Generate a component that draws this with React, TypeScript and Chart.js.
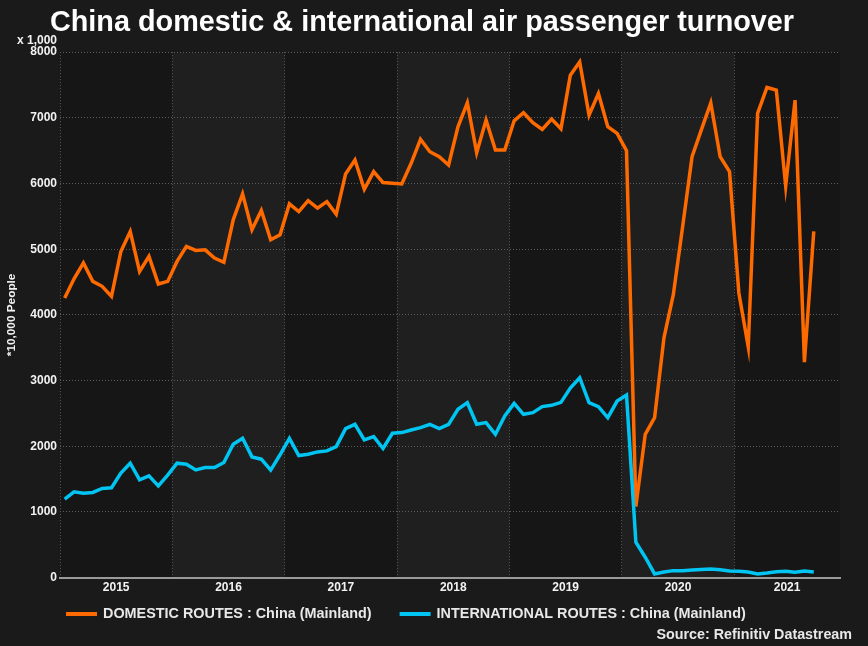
import React, { useEffect, useRef } from 'react';
import { Chart, registerables } from 'chart.js';

Chart.register(...registerables);

// ---- DATA (monthly, Jan 2015 – Sep 2021) ----
const startYear = 2015;
const yearLabels = ['2015', '2016', '2017', '2018', '2019', '2020', '2021'];
const axisEndMonths = 83.3; // visible x range in months from Jan 2015

const domestic = [
  4258, 4550, 4790, 4510, 4435, 4282, 4966, 5270, 4662, 4890, 4470, 4510,
  4814, 5042, 4981, 4990, 4866, 4800, 5447, 5842, 5295, 5589, 5143, 5219,
  5690, 5573, 5740, 5625, 5725, 5533, 6146, 6358, 5913, 6181, 6014, 6004,
  5994, 6308, 6673, 6484, 6408, 6282, 6864, 7228, 6469, 6966, 6510, 6510,
  6955, 7077, 6925, 6824, 6981, 6834, 7649, 7851, 7042, 7371, 6864, 6763,
  6500, 1084, 2182, 2436, 3651, 4308, 5350, 6408, 6820, 7228, 6408, 6181,
  4334, 3514, 7067, 7462, 7421, 5963, 7269, 3280, 5270,
];

const international = [
  1195, 1306, 1286, 1297, 1357, 1367, 1590, 1742, 1488, 1549, 1397, 1560,
  1742, 1727, 1640, 1677, 1677, 1752, 2030, 2121, 1838, 1803, 1636, 1870,
  2120, 1858, 1879, 1914, 1929, 1995, 2269, 2334, 2096, 2147, 1965, 2197,
  2208, 2248, 2284, 2334, 2269, 2334, 2562, 2663, 2334, 2360, 2182, 2460,
  2653, 2486, 2512, 2603, 2623, 2668, 2885, 3043, 2663, 2603, 2436, 2688,
  2779, 538, 310, 56, 85, 106, 106, 115, 125, 132, 120, 100,
  98, 85, 56, 70, 88, 95, 80, 100, 85,
];

const seriesNames = [
  'DOMESTIC ROUTES : China (Mainland)',
  'INTERNATIONAL ROUTES : China (Mainland)',
];
const seriesColors = ['#ff6a00', '#00c4f2'];

const TITLE = 'China domestic & international air passenger turnover';
const Y_TITLE = '*10,000 People';
const UNIT_LABEL = 'x 1,000';
const SOURCE = 'Source: Refinitiv Datastream';

const FONT = "'Liberation Sans', Arial, Helvetica, sans-serif";
const TEXT = '#f2f2f2';

const toPoints = (arr: number[]) => arr.map((v, i) => ({ x: i + 0.5, y: v }));

const bandsPlugin = {
  id: 'yearBands',
  beforeDraw(chart: any) {
    const { ctx, chartArea: ca, scales } = chart;
    const x = scales.x;
    ctx.save();
    ctx.fillStyle = '#161616';
    ctx.fillRect(ca.left, ca.top, ca.right - ca.left, ca.bottom - ca.top);
    yearLabels.forEach((_, k) => {
      if (k % 2 === 1) {
        const x0 = x.getPixelForValue(k * 12);
        const x1 = Math.min(x.getPixelForValue(k * 12 + 12), ca.right);
        ctx.fillStyle = '#1f1f1f';
        ctx.fillRect(x0, ca.top, x1 - x0, ca.bottom - ca.top);
      }
    });
    ctx.restore();
  },
};

const extrasPlugin = {
  id: 'extras',
  afterDraw(chart: any) {
    const { ctx, chartArea: ca } = chart;
    ctx.save();
    // unit label
    ctx.font = `bold 12px ${FONT}`;
    ctx.fillStyle = TEXT;
    ctx.textAlign = 'right';
    ctx.textBaseline = 'middle';
    ctx.fillText(UNIT_LABEL, ca.left - 3, 41);

    // legend
    ctx.font = `bold 14.4px ${FONT}`;
    ctx.textAlign = 'left';
    let x = 66;
    const y = 614;
    chart.data.datasets.forEach((ds: any) => {
      ctx.fillStyle = ds.borderColor;
      ctx.fillRect(x, y - 2, 31, 4);
      x += 37;
      ctx.fillStyle = '#e8e8e8';
      ctx.fillText(ds.label, x, y);
      x += ctx.measureText(ds.label).width + 28;
    });

    // source
    ctx.font = `bold 14.3px ${FONT}`;
    ctx.textAlign = 'right';
    ctx.fillStyle = '#e8e8e8';
    ctx.fillText(SOURCE, 852, 635);
    ctx.restore();
  },
};

export default function App() {
  const ref = useRef<HTMLCanvasElement>(null);

  useEffect(() => {
    if (!ref.current) return;
    const chart = new Chart(ref.current, {
      type: 'line',
      data: {
        datasets: [
          {
            label: seriesNames[0],
            data: toPoints(domestic),
            borderColor: seriesColors[0],
            backgroundColor: seriesColors[0],
            borderWidth: 3.5,
            pointRadius: 0,
            tension: 0,
            order: 1,
          },
          {
            label: seriesNames[1],
            data: toPoints(international),
            borderColor: seriesColors[1],
            backgroundColor: seriesColors[1],
            borderWidth: 3.5,
            pointRadius: 0,
            tension: 0,
            order: 0,
          },
        ],
      },
      options: {
        animation: false,
        responsive: false,
        devicePixelRatio: 1,
        layout: { padding: { left: 4, right: 28, top: 0, bottom: 49 } },
        plugins: {
          legend: { display: false },
          tooltip: { enabled: false },
          title: {
            display: true,
            text: TITLE,
            color: '#ffffff',
            font: { family: FONT, size: 28.8, weight: 'bold' },
            padding: { top: 6, bottom: 11.6 },
          },
        },
        scales: {
          x: {
            type: 'linear',
            position: 'bottom',
            min: 0,
            max: axisEndMonths,
            afterBuildTicks: (s: any) => {
              s.ticks = yearLabels.map((_, k) => ({
                value: k * 12 + 12 <= axisEndMonths ? k * 12 + 6 : (k * 12 + axisEndMonths) / 2,
              }));
            },
            ticks: {
              autoSkip: false,
              maxRotation: 0,
              padding: 2.5,
              color: TEXT,
              font: { family: FONT, size: 12, weight: 'bold' },
              callback: (v: any) => yearLabels[Math.floor(Number(v) / 12)] ?? '',
            },
            grid: { display: false, drawTicks: false },
            border: { display: true, color: '#9a9a9a', width: 2 },
          },
          xg: {
            type: 'linear',
            position: 'bottom',
            min: 0,
            max: axisEndMonths,
            afterBuildTicks: (s: any) => {
              s.ticks = yearLabels
                .map((_, k) => k * 12)
                .filter((v) => v < axisEndMonths)
                .map((v) => ({ value: v }));
            },
            ticks: { display: false },
            grid: { color: '#5c5c5c', lineWidth: 1, drawTicks: false },
            border: { display: false, dash: [1, 2] },
          },
          y: {
            min: 0,
            max: 8000,
            afterFit: (s: any) => {
              s.width = 56;
            },
            ticks: {
              stepSize: 1000,
              padding: 3,
              color: TEXT,
              font: { family: FONT, size: 12, weight: 'bold' },
              callback: (v: any) => String(v),
            },
            title: {
              display: true,
              text: Y_TITLE,
              color: TEXT,
              font: { family: FONT, size: 11.8, weight: 'bold' },
              padding: { top: 0.5, bottom: 12 },
            },
            grid: {
              color: (c: any) => (c.tick && c.tick.value === 0 ? 'rgba(0,0,0,0)' : '#5c5c5c'),
              lineWidth: 1,
              drawTicks: false,
            },
            border: { display: false, dash: [1, 2] },
          },
        },
      },
      plugins: [bandsPlugin, extrasPlugin],
    } as any);
    return () => chart.destroy();
  }, []);

  return (
    <div
      style={{
        position: 'fixed',
        left: 0,
        top: 0,
        width: 868,
        height: 646,
        background: '#1a1a1a',
      }}
    >
      <canvas ref={ref} width={868} height={646} style={{ display: 'block', width: 868, height: 646 }} />
    </div>
  );
}
